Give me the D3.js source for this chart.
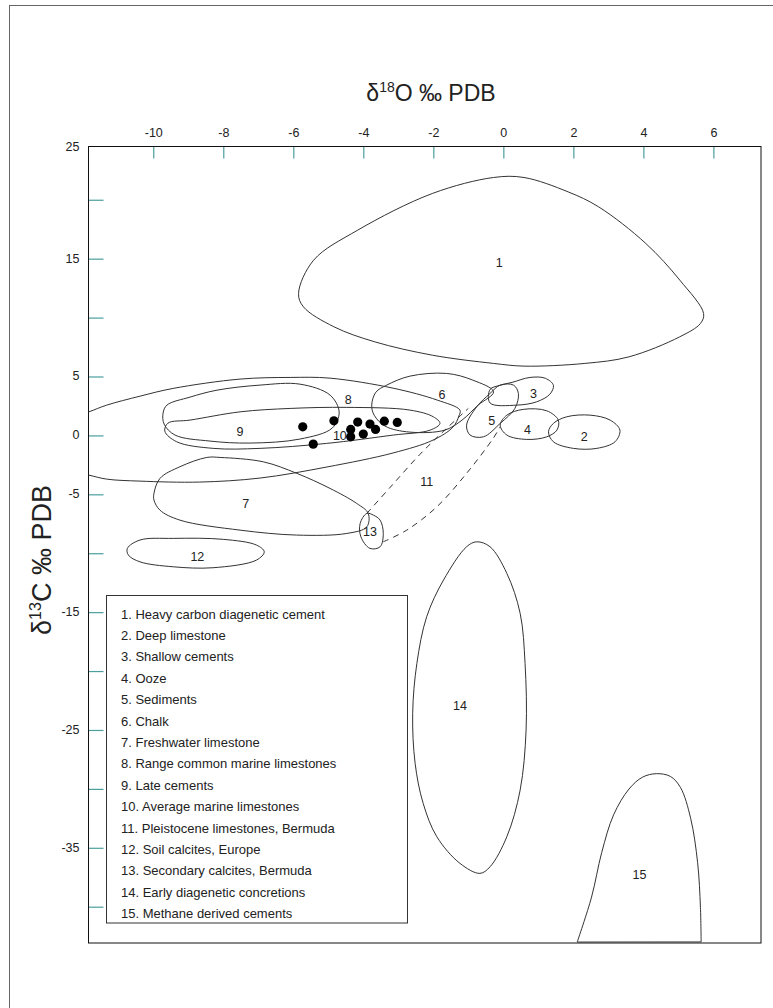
<!DOCTYPE html>
<html>
<head>
<meta charset="utf-8">
<title>Carbon and oxygen isotope fields of carbonates</title>
<script src="https://cdn.jsdelivr.net/npm/d3@7"></script>
<style>
  body { margin: 0; background: #fff; }
  svg text { font-family: "Liberation Sans", Arial, sans-serif; fill: #222; }
</style>
</head>
<body>
<div id="chart"></div>
<script>
// axis ticks
var xTicks = [-10, -8, -6, -4, -2, 0, 2, 4, 6];
var yTickMarks = [20, 15, 10, 5, 0, -5, -10, -15, -20, -25, -30, -35, -40];
var yTickLabels = [25, 15, 5, 0, -5, -15, -25, -35];

// outlines of each field, [d18O, d13C]
var field1 = [[-5.85,12.05],[-5.42,14.87],[-4.16,17.42],[-2.03,20.53],[-0.28,21.89],[0.59,21.89],[1.85,20.67],[2.72,19.40],[4.07,16.29],[5.04,13.18],[5.72,10.35],[5.63,9.50],[5.04,8.37],[3.59,6.67],[2.33,6.11],[0.59,5.88],[-0.28,6.11],[-2.03,6.81],[-3.67,7.94],[-4.84,9.22],[-5.71,10.91]];
var field2 = [[1.29,0.31],[1.43,1.02],[1.81,1.58],[2.48,1.72],[3.05,1.30],[3.33,0.45],[3.19,-0.54],[2.67,-1.10],[2.0,-1.10],[1.43,-0.54]];
var field3 = [[-0.38,3.9],[-0.38,2.75],[0.38,2.57],[0.95,2.85],[1.33,3.5],[1.43,4.25],[1.2,4.85],[0.76,4.92],[0.25,4.5],[-0.1,4.25]];
var field4 = [[-0.09,0.87],[0.10,1.72],[0.57,2.21],[1.24,2.09],[1.57,1.30],[1.53,0.45],[1.24,-0.12],[0.67,-0.34],[0.10,0.03]];
var field5 = [[-0.38,3.56],[-0.09,4.27],[0.29,4.27],[0.43,3.56],[0.33,2.29],[-0.09,1.02],[-0.57,-0.12],[-0.95,0.03],[-1.05,0.87],[-0.76,2.43]];
var field6 = [[-3.76,2.57],[-3.64,3.67],[-3.33,4.27],[-2.67,5.03],[-1.62,5.26],[-0.87,4.69],[-0.28,3.70],[-0.72,2.57],[-1.18,1.30],[-1.67,0.45],[-2.67,0.28],[-3.38,0.79],[-3.69,1.72]];
var field7 = [[-9.98,-4.92],[-9.81,-3.65],[-9.24,-2.66],[-8.47,-1.87],[-8.09,-1.87],[-6.86,-2.24],[-5.90,-3.22],[-4.95,-4.50],[-4.19,-5.77],[-3.86,-6.62],[-3.90,-7.76],[-4.47,-8.32],[-5.90,-8.46],[-7.52,-8.04],[-9.24,-7.19],[-9.81,-6.34],[-9.98,-5.49]];
var field8 = [[-12.38,1.47],[-11.84,2.0],[-11.33,2.57],[-10.38,3.33],[-9.43,3.99],[-7.52,4.78],[-6.09,4.92],[-4.95,4.86],[-3.15,4.01],[-1.89,3.0],[-1.24,2.15],[-1.27,1.64],[-1.44,0.70],[-2.01,-0.40],[-3.15,-1.49],[-5.04,-2.68],[-6.95,-3.62],[-8.67,-3.96],[-10.38,-3.88],[-11.33,-3.71],[-11.84,-3.37],[-12.38,-3.03]];
var field9 = [[-9.72,1.89],[-9.61,2.57],[-8.95,3.25],[-8.18,3.84],[-6.95,4.27],[-5.81,4.35],[-4.95,3.42],[-4.69,1.98],[-4.89,0.62],[-5.81,-0.31],[-7.24,-0.65],[-8.38,-0.48],[-9.38,0.03],[-9.69,0.96]];
var field10 = [[-9.67,0.36],[-9.58,1.04],[-8.95,1.30],[-7.52,2.0],[-6.09,2.29],[-4.47,2.38],[-2.67,2.15],[-2.0,1.58],[-1.81,1.02],[-2.09,0.45],[-3.14,0.03],[-5.05,-0.68],[-6.95,-1.10],[-8.29,-1.10],[-9.33,-0.54]];
var field11a = [[-3.90,-6.62],[-3.2,-4.3],[-2.38,-1.6],[-1.62,0.6],[-1.0,2.29]];
var field11b = [[-3.43,-9.03],[-2.76,-8.04],[-1.90,-6.06],[-1.05,-3.22],[-0.29,-0.25],[-0.09,0.73]];
var field12 = [[-10.74,-9.59],[-10.38,-8.88],[-9.43,-8.74],[-8.0,-8.82],[-7.05,-9.31],[-6.83,-9.88],[-7.05,-10.58],[-8.29,-11.23],[-9.43,-11.15],[-10.38,-10.73],[-10.71,-10.16]];
var field13 = [[-3.90,-6.62],[-4.09,-7.47],[-4.07,-8.60],[-3.81,-9.59],[-3.52,-9.45],[-3.43,-8.32],[-3.52,-7.19],[-3.71,-6.77]];
var field14 = [[-0.76,-9.03],[-1.05,-9.45],[-1.71,-12.28],[-2.19,-15.39],[-2.47,-19.35],[-2.59,-23.59],[-2.52,-27.83],[-2.29,-31.23],[-1.90,-34.06],[-1.24,-36.32],[-0.67,-37.17],[-0.38,-36.61],[0.10,-34.06],[0.48,-30.10],[0.65,-25.0],[0.62,-19.35],[0.48,-15.10],[0.10,-11.71],[-0.38,-9.45]];
// field 15 is cut off by the bottom of the plot: outline runs left-bottom, over the top, to right-bottom
var field15 = [[2.11,-43.0],[2.52,-39.18],[2.81,-35.40],[3.15,-32.20],[3.59,-30.01],[3.98,-29.0],[4.37,-28.71],[4.77,-28.94],[5.06,-29.88],[5.35,-32.49],[5.55,-36.27],[5.63,-40.05],[5.65,-42.99]];

var closedFields = [field1, field2, field3, field4, field5, field6, field7, field8,
                    field9, field10, field12, field13, field14];
var cutFields = [field15];
var dashedFields = [field11a, field11b];

var fieldNumbers = ["1","2","3","4","5","6","7","8","9","10","11","12","13","14","15"];
var fieldLabelPos = [[-0.12,14.7],[2.31,-0.12],[0.86,3.56],[0.69,0.51],[-0.33,1.26],[-1.75,3.42],[-7.36,-5.77],[-4.43,3.0],[-7.52,0.28],[-4.67,-0.06],[-2.19,-3.94],[-8.74,-10.30],[-3.81,-8.18],[-1.24,-22.97],[3.89,-37.28]];
var fieldNames = [
  "1. Heavy carbon diagenetic cement",
  "2. Deep limestone",
  "3. Shallow cements",
  "4. Ooze",
  "5. Sediments",
  "6. Chalk",
  "7. Freshwater limestone",
  "8. Range common marine limestones",
  "9. Late cements",
  "10. Average marine limestones",
  "11. Pleistocene limestones, Bermuda",
  "12. Soil calcites, Europe",
  "13. Secondary calcites, Bermuda",
  "14. Early diagenetic concretions",
  "15. Methane derived cements"
];

// measured samples
var samplesO = [-5.73, -4.84, -5.43, -4.16, -4.36, -4.36, -4.00, -3.81, -3.65, -3.40, -3.03];
var samplesC = [0.73, 1.24, -0.74, 1.13, 0.51, -0.12, 0.11, 0.96, 0.51, 1.21, 1.10];

var W = 773, H = 1008;
var plot = {left: 88.5, top: 146.5, right: 761, bottom: 943};
var tickColor = "#4a9e9e";

var svg = d3.select("#chart").append("svg")
    .attr("width", W).attr("height", H);

// outer frame
svg.append("rect")
    .attr("x", 9.5).attr("y", 5.5)
    .attr("width", 900).attr("height", 1100)
    .attr("fill", "none").attr("stroke", "#666");

var x = d3.scaleLinear().domain([-11.85, 7.36]).range([plot.left, plot.right]);
var y = d3.scaleLinear().domain([-43.08, 24.52]).range([plot.bottom, plot.top]);

svg.append("clipPath").attr("id", "plotClip")
  .append("rect")
    .attr("x", plot.left).attr("y", plot.top)
    .attr("width", plot.right - plot.left).attr("height", plot.bottom - plot.top);

// x axis at top, ticks pointing into the plot
var xAxis = d3.axisTop(x)
    .tickValues(xTicks)
    .tickSize(-12)
    .tickPadding(10)
    .tickFormat(function(d) { return String(d); });
var gx = svg.append("g").attr("transform", "translate(0," + plot.top + ")").call(xAxis);
gx.select(".domain").remove();
gx.selectAll(".tick line").attr("stroke", tickColor).attr("stroke-width", 1.2);
gx.selectAll(".tick text").attr("font-size", 12.5).attr("fill", "#222");

// y axis tick marks
var yMarks = d3.axisLeft(y).tickValues(yTickMarks).tickSize(-15).tickFormat("");
var gy = svg.append("g").attr("transform", "translate(" + plot.left + ",0)").call(yMarks);
gy.select(".domain").remove();
gy.selectAll(".tick line").attr("stroke", tickColor).attr("stroke-width", 1.2);

// y axis labels
var yLabels = d3.axisLeft(y).tickValues(yTickLabels).tickSize(0).tickPadding(9)
    .tickFormat(function(d) { return String(d); });
var gyl = svg.append("g").attr("transform", "translate(" + plot.left + ",0)").call(yLabels);
gyl.select(".domain").remove();
gyl.selectAll(".tick")
    .attr("transform", function(d) { return "translate(0," + Math.max(y(d), plot.top) + ")"; });
gyl.selectAll(".tick text").attr("font-size", 12.5).attr("fill", "#222");

// plot frame
svg.append("rect")
    .attr("x", plot.left).attr("y", plot.top)
    .attr("width", plot.right - plot.left).attr("height", plot.bottom - plot.top)
    .attr("fill", "none").attr("stroke", "#111");

// fields
var closedLine = d3.line()
    .x(function(d) { return x(d[0]); })
    .y(function(d) { return y(d[1]); })
    .curve(d3.curveCatmullRomClosed.alpha(0.5));
var openLine = d3.line()
    .x(function(d) { return x(d[0]); })
    .y(function(d) { return y(d[1]); })
    .curve(d3.curveCatmullRom.alpha(0.5));

var gf = svg.append("g").attr("clip-path", "url(#plotClip)");
gf.selectAll("path.field").data(closedFields).enter().append("path")
    .attr("class", "field")
    .attr("d", closedLine)
    .attr("fill", "none").attr("stroke", "#333").attr("stroke-width", 1);
gf.selectAll("path.cut").data(cutFields).enter().append("path")
    .attr("class", "cut")
    .attr("d", function(d) { return openLine(d) + "Z"; })
    .attr("fill", "none").attr("stroke", "#333").attr("stroke-width", 1);
gf.selectAll("path.dashed").data(dashedFields).enter().append("path")
    .attr("class", "dashed")
    .attr("d", openLine)
    .attr("fill", "none").attr("stroke", "#333").attr("stroke-width", 1)
    .attr("stroke-dasharray", "6,5");

// field numbers
svg.append("g").selectAll("text").data(fieldNumbers).enter().append("text")
    .attr("x", function(d, i) { return x(fieldLabelPos[i][0]); })
    .attr("y", function(d, i) { return y(fieldLabelPos[i][1]); })
    .attr("dy", "0.35em")
    .attr("text-anchor", "middle")
    .attr("font-size", 12.5)
    .text(function(d) { return d; });

// samples
svg.append("g").selectAll("circle").data(samplesO).enter().append("circle")
    .attr("cx", function(d) { return x(d); })
    .attr("cy", function(d, i) { return y(samplesC[i]); })
    .attr("r", 4.6)
    .attr("fill", "#000");

// legend
var legend = svg.append("g");
legend.append("rect")
    .attr("x", 106.5).attr("y", 595.5)
    .attr("width", 301).attr("height", 327.5)
    .attr("fill", "#fff").attr("stroke", "#333");
legend.selectAll("text").data(fieldNames).enter().append("text")
    .attr("x", 121)
    .attr("y", function(d, i) { return 614 + i * 21.4; })
    .attr("dy", "0.35em")
    .attr("font-size", 13)
    .text(function(d) { return d; });

// axis titles
var tx = svg.append("text")
    .attr("x", 431).attr("y", 101)
    .attr("text-anchor", "middle")
    .attr("font-size", 23);
tx.append("tspan").text("\u03b4");
tx.append("tspan").attr("dy", -9).attr("font-size", 14).text("18");
tx.append("tspan").attr("dy", 9).text("O \u2030 PDB");

var ty = svg.append("text")
    .attr("transform", "translate(51,560) rotate(-90)")
    .attr("text-anchor", "middle")
    .attr("font-size", 27);
ty.append("tspan").text("\u03b4");
ty.append("tspan").attr("dy", -10).attr("font-size", 16).text("13");
ty.append("tspan").attr("dy", 10).text("C \u2030 PDB");
</script>
</body>
</html>
